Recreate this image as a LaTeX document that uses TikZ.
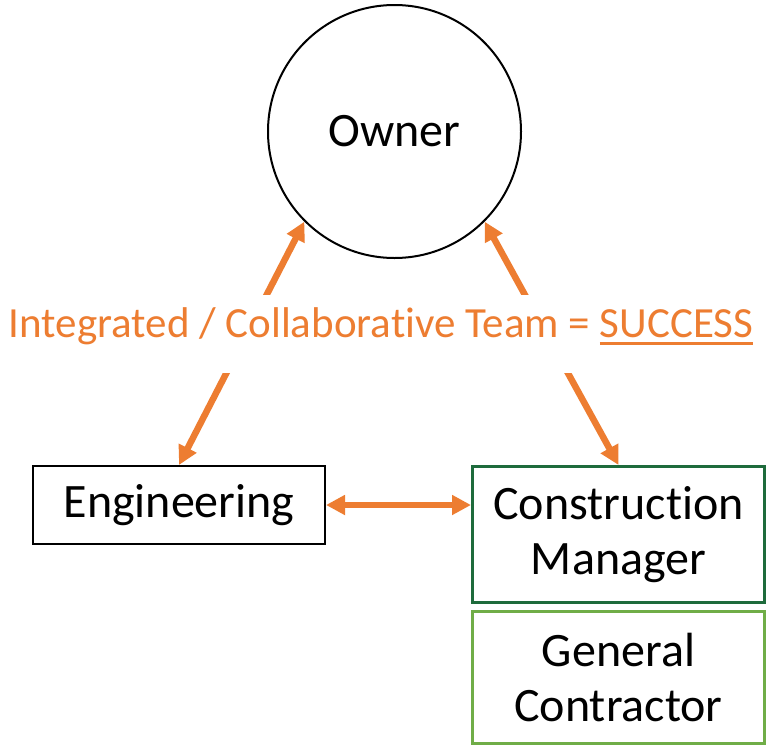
\documentclass[tikz,border=0pt]{standalone}
\usepackage{fontspec}
\setmainfont{Carlito}[Ligatures=NoCommon]
\usetikzlibrary{arrows.meta}

\definecolor{oransje}{HTML}{ED7D31}
\definecolor{mørkgrønn}{HTML}{1E6B3C}
\definecolor{lysgrønn}{HTML}{70AD47}

\newcommand{\understrek}[1]{\setbox0\hbox{#1}\rlap{\rule[-8pt]{\wd0}{3pt}}\box0}

\tikzset{
  boks/.style={draw,line width=2pt,fill=white,align=center,
    inner sep=0pt,font=\fontsize{48}{55}\selectfont},
  pil/.style={oransje,line width=6.5pt},
}

\begin{document}
\begin{tikzpicture}[x=1pt,y=-1pt,>={Triangle[length=19pt,width=19pt]}]
  \useasboundingbox (0,0) rectangle (766,745);
  % Eier
  \node[boks,circle,minimum size=253pt] (owner) at (394.5,131.5) {Owner};
  % Bokser
  \node[boks,minimum width=292pt,minimum height=78pt] (eng) at (179,505) {Engineering};
  \node[boks,draw=mørkgrønn,line width=3pt,minimum width=292pt,minimum height=136pt]
    (cm) at (618.5,534.5) {Construction\\Manager};
  \node[boks,draw=lysgrønn,line width=3pt,minimum width=292pt,minimum height=132pt]
    (gc) at (618.5,677.5) {General\\Contractor};
  % Piler
  \draw[pil,<->] (eng.north) -- (owner.225);
  \draw[pil,<->] (cm.north) -- (owner.315);
  \draw[pil,<->] (eng.east) -- (eng.east -| cm.west);
  % Tekst over pilene
  \node[anchor=base,fill=white,inner sep=0pt,text height=42pt,text depth=36pt,
    text=oransje,font=\fontsize{43}{50}\selectfont] (team) at (381,337)
    {Integrated / Collaborative Team = \understrek{SUCCESS}};
\end{tikzpicture}
\end{document}
